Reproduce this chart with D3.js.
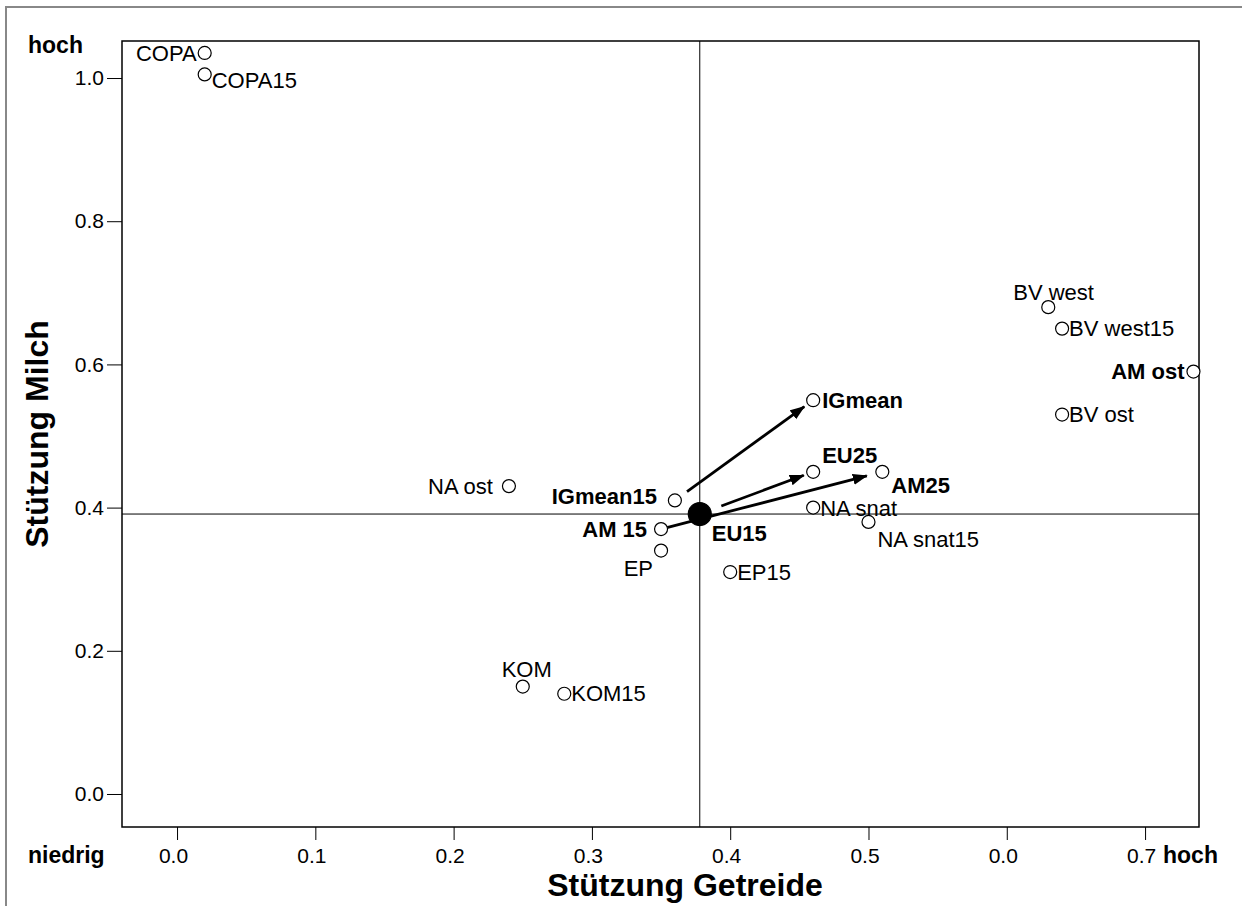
<!DOCTYPE html>
<html>
<head>
<meta charset="utf-8">
<script src="https://cdn.jsdelivr.net/npm/d3@7"></script>
<style>
  html, body { margin: 0; padding: 0; background: #fff; overflow: hidden; }
  svg { display: block; }
  text { font-family: "Liberation Sans", Arial, sans-serif; fill: #000; }
</style>
</head>
<body>
<div id="chart"></div>
<script>
// actors, support for grain (x) and milk (y)
var names = ['COPA', 'COPA15', 'BV west', 'BV west15', 'AM ost', 'BV ost',
  'IGmean', 'EU25', 'AM25', 'NA snat', 'NA snat15', 'EP15', 'EU15',
  'IGmean15', 'AM 15', 'EP', 'NA ost', 'KOM', 'KOM15'];
var getreide = [0.02, 0.02, 0.63, 0.64, 0.735, 0.64,
  0.46, 0.46, 0.51, 0.46, 0.50, 0.40, 0.378,
  0.36, 0.35, 0.35, 0.24, 0.25, 0.28];
var milch = [1.035, 1.005, 0.68, 0.65, 0.59, 0.53,
  0.55, 0.45, 0.45, 0.40, 0.38, 0.31, 0.391,
  0.41, 0.37, 0.34, 0.43, 0.15, 0.14];

var centerName = 'EU15';

// shifts from 15 to 25 member states
var arrowFrom = ['IGmean15', 'EU15', 'AM 15'];
var arrowTo = ['IGmean', 'EU25', 'AM25'];

var xTickValues = [0, 0.1, 0.2, 0.3, 0.4, 0.5, 0.6, 0.7];
var xTickLabels = ['0.0', '0.1', '0.2', '0.3', '0.4', '0.5', '0.0', '0.7'];
var yTickValues = [0, 0.2, 0.4, 0.6, 0.8, 1.0];
var yTickLabels = ['0.0', '0.2', '0.4', '0.6', '0.8', '1.0'];

// label placement: anchor, dx, dy (px from the circle)
var labelPos = {
  'COPA': ['end', -8, 0],
  'COPA15': ['start', 7, 6],
  'BV west': ['start', -35, -15],
  'BV west15': ['start', 7, 0],
  'AM ost': ['end', -9, 0],
  'BV ost': ['start', 7, 0],
  'IGmean': ['start', 9, 0],
  'EU25': ['start', 9, -17],
  'AM25': ['start', 9, 13],
  'NA snat': ['start', 7, 1],
  'NA snat15': ['start', 9, 17],
  'EP15': ['start', 7, 0],
  'EU15': ['start', 12, 19],
  'IGmean15': ['end', -18, -4],
  'AM 15': ['end', -14, 0],
  'EP': ['end', -8, 18],
  'NA ost': ['end', -16, 0],
  'KOM': ['middle', 4, -17],
  'KOM15': ['start', 7, 0]
};
var boldLabels = ['AM ost', 'IGmean', 'EU25', 'AM25', 'EU15', 'IGmean15', 'AM 15'];
// gap between arrow ends and the circles
var arrowStartGap = [15, 23, 6];
var arrowEndGap = [11, 10, 16];

var margin = { top: 41, right: 43, bottom: 79, left: 122 },
  width = 1242 - margin.left - margin.right,
  height = 906 - margin.top - margin.bottom;

var root = d3.select('#chart')
  .append('svg')
  .attr('width', 1242)
  .attr('height', 906);

// outer frame (only top and left edges are visible)
root.append('rect')
  .attr('x', 6)
  .attr('y', 7)
  .attr('width', 1400)
  .attr('height', 1000)
  .attr('fill', 'none')
  .attr('stroke', '#888')
  .attr('stroke-width', 2);

var svg = root.append('g')
  .attr('transform', 'translate(' + margin.left + ',' + margin.top + ')');

var x = d3.scaleLinear().domain([-0.0398, 0.739]).range([0, width]);
var y = d3.scaleLinear().domain([-0.0461, 1.0517]).range([height, 0]);

var pts = names.map(function (n, i) {
  return { name: n, gx: getreide[i], my: milch[i] };
});
function byName(n) {
  return pts.find(function (p) { return p.name === n; });
}
var center = byName(centerName);

// axes
var xAxis = svg.append('g')
  .attr('transform', 'translate(0,' + height + ')')
  .call(d3.axisBottom(x)
    .tickValues(xTickValues)
    .tickFormat(function (d, i) { return xTickLabels[i]; })
    .tickSize(13)
    .tickPadding(8)
    .tickSizeOuter(0));
xAxis.selectAll('.tick text').attr('x', -4);

var yAxis = svg.append('g')
  .call(d3.axisLeft(y)
    .tickValues(yTickValues)
    .tickFormat(function (d, i) { return yTickLabels[i]; })
    .tickSize(15)
    .tickPadding(3)
    .tickSizeOuter(0));

[xAxis, yAxis].forEach(function (a) {
  a.select('.domain').remove();
  a.selectAll('.tick line').attr('stroke', '#000').attr('stroke-width', 1);
  a.selectAll('.tick text')
    .style('font-family', '"Liberation Sans", Arial, sans-serif')
    .style('font-size', '21px')
    .attr('fill', '#000');
});

// plot frame
svg.append('rect')
  .attr('x', 0)
  .attr('y', 0)
  .attr('width', width)
  .attr('height', height)
  .attr('fill', 'none')
  .attr('stroke', '#000')
  .attr('stroke-width', 1.5);

// reference lines through EU15
svg.append('line')
  .attr('x1', x(center.gx)).attr('x2', x(center.gx))
  .attr('y1', 0).attr('y2', height)
  .attr('stroke', '#000').attr('stroke-width', 1);
svg.append('line')
  .attr('x1', 0).attr('x2', width)
  .attr('y1', y(center.my)).attr('y2', y(center.my))
  .attr('stroke', '#000').attr('stroke-width', 1);

// arrowhead
root.append('defs').append('marker')
  .attr('id', 'head')
  .attr('markerUnits', 'userSpaceOnUse')
  .attr('viewBox', '0 -6 15 12')
  .attr('refX', 14)
  .attr('refY', 0)
  .attr('markerWidth', 15)
  .attr('markerHeight', 12)
  .attr('orient', 'auto')
  .append('path')
  .attr('d', 'M0,-5.5L15,0L0,5.5Z')
  .attr('fill', '#000');

arrowFrom.forEach(function (f, i) {
  var a = byName(f), b = byName(arrowTo[i]);
  var x1 = x(a.gx), y1 = y(a.my), x2 = x(b.gx), y2 = y(b.my);
  var len = Math.sqrt((x2 - x1) * (x2 - x1) + (y2 - y1) * (y2 - y1));
  var ux = (x2 - x1) / len, uy = (y2 - y1) / len;
  svg.append('line')
    .attr('x1', x1 + ux * arrowStartGap[i])
    .attr('y1', y1 + uy * arrowStartGap[i])
    .attr('x2', x2 - ux * arrowEndGap[i])
    .attr('y2', y2 - uy * arrowEndGap[i])
    .attr('stroke', '#000')
    .attr('stroke-width', 2.8)
    .attr('marker-end', 'url(#head)');
});

// points
svg.selectAll('circle.pt')
  .data(pts)
  .enter()
  .append('circle')
  .attr('class', 'pt')
  .attr('cx', function (d) { return x(d.gx); })
  .attr('cy', function (d) { return y(d.my); })
  .attr('r', function (d) { return d.name === centerName ? 11.5 : 6.5; })
  .attr('fill', function (d) { return d.name === centerName ? '#000' : '#fff'; })
  .attr('stroke', '#000')
  .attr('stroke-width', 1.2);

svg.selectAll('text.lbl')
  .data(pts)
  .enter()
  .append('text')
  .attr('class', 'lbl')
  .attr('x', function (d) { return x(d.gx) + labelPos[d.name][1]; })
  .attr('y', function (d) { return y(d.my) + labelPos[d.name][2]; })
  .attr('dy', '0.35em')
  .attr('text-anchor', function (d) { return labelPos[d.name][0]; })
  .style('font-size', '22px')
  .style('font-weight', function (d) {
    return boldLabels.indexOf(d.name) >= 0 ? 'bold' : 'normal';
  })
  .text(function (d) { return d.name; });

// axis titles
root.append('text')
  .attr('x', 685)
  .attr('y', 896)
  .attr('text-anchor', 'middle')
  .style('font-size', '32px')
  .style('font-weight', 'bold')
  .text('Stützung Getreide');

root.append('text')
  .attr('transform', 'translate(48,' + (margin.top + height / 2) + ') rotate(-90)')
  .attr('text-anchor', 'middle')
  .style('font-size', '32px')
  .style('font-weight', 'bold')
  .text('Stützung Milch');

// low / high markers
var ends = [
  { t: 'hoch', x: 28, y: 45, a: 'start' },
  { t: 'niedrig', x: 28, y: 855, a: 'start' },
  { t: 'hoch', x: 1163, y: 855, a: 'start' }
];
root.selectAll('text.end')
  .data(ends)
  .enter()
  .append('text')
  .attr('class', 'end')
  .attr('x', function (d) { return d.x; })
  .attr('y', function (d) { return d.y; })
  .attr('dy', '0.35em')
  .attr('text-anchor', function (d) { return d.a; })
  .style('font-size', '23px')
  .style('font-weight', 'bold')
  .text(function (d) { return d.t; });
</script>
</body>
</html>
